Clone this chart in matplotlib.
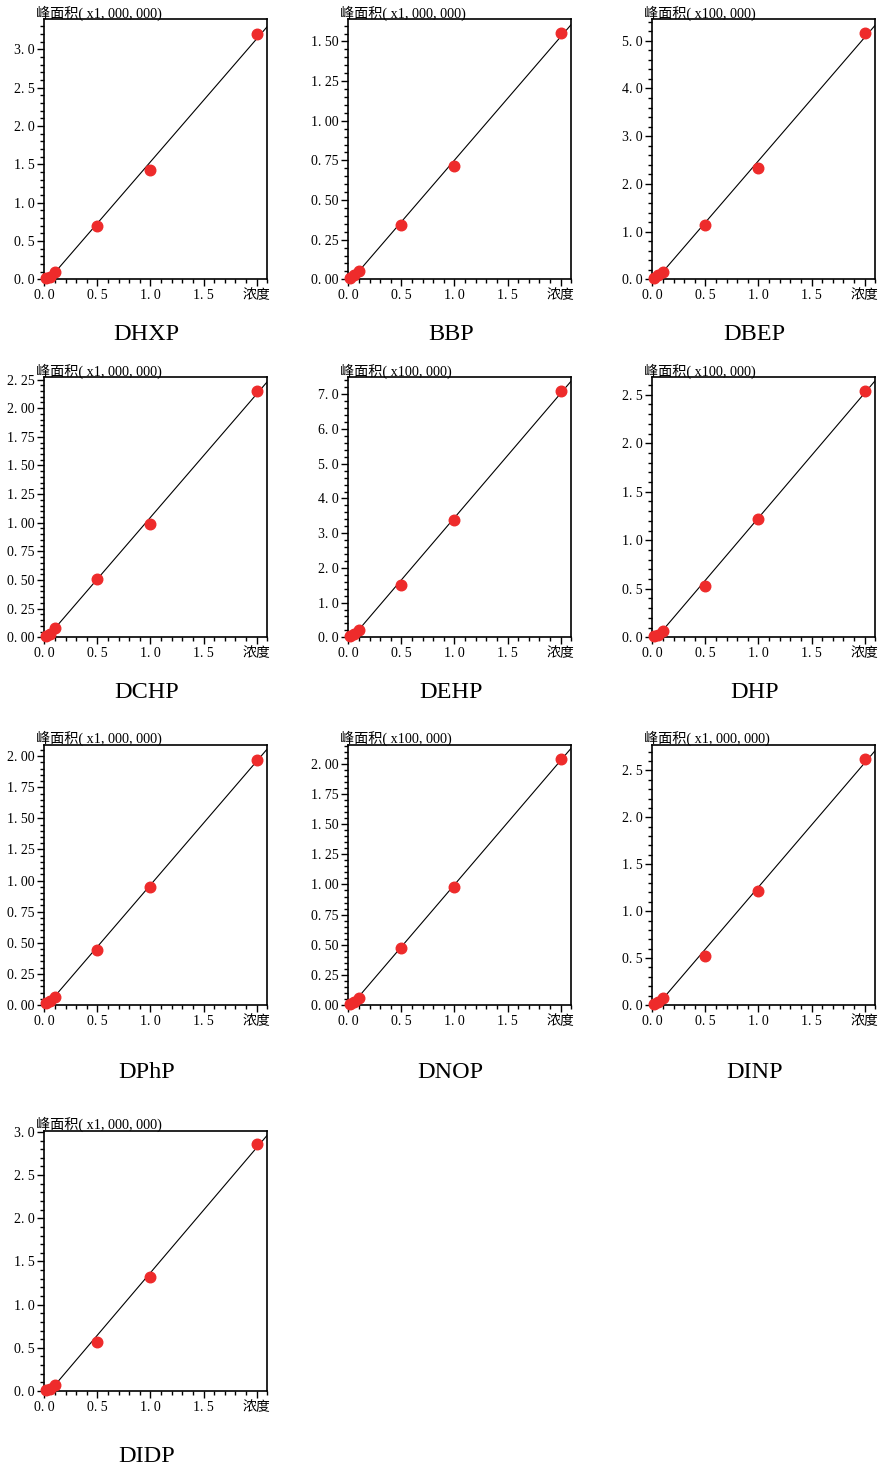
import numpy as np
import matplotlib.pyplot as plt
from matplotlib.ticker import MultipleLocator, FixedLocator

plt.rcParams['font.family'] = ['Liberation Serif', 'Noto Sans CJK SC']

names = ['DHXP', 'BBP', 'DBEP', 'DCHP', 'DEHP', 'DHP', 'DPhP', 'DNOP', 'DINP', 'DIDP']
units = ['x1, 000, 000', 'x1, 000, 000', 'x100, 000', 'x1, 000, 000', 'x100, 000',
         'x100, 000', 'x1, 000, 000', 'x100, 000', 'x1, 000, 000', 'x1, 000, 000']
conc = [0.02, 0.05, 0.1, 0.5, 1.0, 2.0]

area_dhxp = [0.013, 0.035, 0.10, 0.69, 1.42, 3.20]
area_bbp = [0.010, 0.025, 0.052, 0.342, 0.717, 1.552]
area_dbep = [0.03, 0.08, 0.15, 1.14, 2.33, 5.16]
area_dchp = [0.015, 0.03, 0.079, 0.509, 0.993, 2.151]
area_dehp = [0.05, 0.10, 0.20, 1.50, 3.375, 7.10]
area_dhp = [0.01, 0.025, 0.069, 0.532, 1.219, 2.538]
area_dphp = [0.015, 0.03, 0.067, 0.44, 0.952, 1.973]
area_dnop = [0.01, 0.022, 0.06, 0.474, 0.983, 2.039]
area_dinp = [0.01, 0.03, 0.07, 0.52, 1.211, 2.62]
area_didp = [0.012, 0.023, 0.066, 0.568, 1.32, 2.861]
areas = [area_dhxp, area_bbp, area_dbep, area_dchp, area_dehp,
         area_dhp, area_dphp, area_dnop, area_dinp, area_didp]

y_top = [3.39, 1.64, 5.45, 2.27, 7.49, 2.68, 2.09, 2.157, 2.77, 3.01]
y_major = [0.5, 0.25, 1.0, 0.25, 1.0, 0.5, 0.25, 0.25, 0.5, 0.5]
y_minor = [0.1, 0.05, 0.2, 0.05, 0.2, 0.1, 0.05, 0.05, 0.1, 0.1]

W, H = 879, 1469
fig = plt.figure(figsize=(W / 100, H / 100), dpi=100)

lefts = [44.3, 348.3, 652.3]
tops = [19.3, 377.3, 745, 1131]
title_y = [335, 693, 1073, 1457]
aw, ah = 223, 260

for i, name in enumerate(names):
    r, c = divmod(i, 3)
    ax = fig.add_axes([lefts[c] / W, 1 - (tops[r] + ah) / H, aw / W, ah / H])
    x = np.array(conc)
    y = np.array(areas[i])
    k, b = np.polyfit(x, y, 1)
    xs = np.array([0, 2.1])
    ax.plot(xs, k * xs + b, color='black', lw=0.8, zorder=2)
    ax.plot(x, y, 'o', color='#ee2b2b', ms=7.6, mec='#ee2b2b', zorder=3, clip_on=False)

    ax.set_xlim(0, 2.1)
    ax.set_ylim(0, y_top[i])
    ax.xaxis.set_major_locator(FixedLocator([0, 0.5, 1.0, 1.5, 2.0]))
    ax.set_xticklabels(['0. 0', '0. 5', '1. 0', '1. 5', '浓度'])
    ax.xaxis.set_minor_locator(MultipleLocator(0.1))
    ax.yaxis.set_major_locator(MultipleLocator(y_major[i]))
    ax.yaxis.set_minor_locator(MultipleLocator(y_minor[i]))
    dec = 2 if y_major[i] == 0.25 else 1
    yt = np.arange(0, y_top[i] + 1e-9, y_major[i])
    ax.set_yticks(yt)
    ax.set_yticklabels([f'{v:.{dec}f}'.replace('.', '. ') for v in yt])
    ax.tick_params(which='major', length=5, width=1, direction='out', labelsize=10, pad=2)
    ax.tick_params(which='minor', length=3, width=1, direction='out')
    for s in ax.spines.values():
        s.set_linewidth(1.2)

    ax.annotate('峰面积( ' + units[i] + ')', xy=(0, 1), xycoords='axes fraction',
                xytext=(-6, -1), textcoords='offset points', ha='left', va='bottom',
                fontsize=10.2)

    cx = lefts[c] + aw / 2 - 9
    fig.text(cx / W, 1 - title_y[r] / H, name, ha='center', va='center', fontsize=17.5)

fig.savefig('out.png', dpi=100)
